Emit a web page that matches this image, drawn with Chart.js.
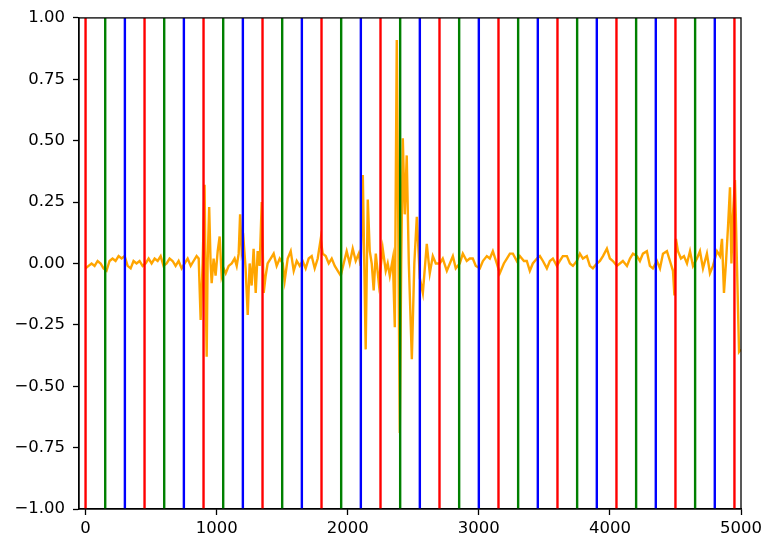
<!DOCTYPE html>
<html>
<head>
<meta charset="utf-8">
<script src="https://cdn.jsdelivr.net/npm/chart.js@4/dist/chart.umd.min.js"></script>
<style>
html,body{margin:0;padding:0;background:#fff;}
canvas{display:block;}
</style>
</head>
<body>
<canvas id="c" width="767" height="542"></canvas>
<script>
// Signal samples (x positions and values)
const signalX = [0,23,46,69,92,115,137,160,183,206,229,252,275,298,321,344,366,389,412,435,458,481,504,527,550,573,595,618,641,664,687,710,733,756,779,802,824,847,863,
878,893,908,916,924,931,943,954,962,977,992,1008,1023,1038,1053,1069,1092,1115,1137,1153,1168,1179,1191,1206,1221,1237,1252,1267,1282,1298,1313,1328,1344,1359,1374,1389,1412,1435,1458,
1481,1504,1519,1542,1565,1588,1611,1634,1656,1679,1702,1725,1748,1771,1794,1809,1832,1855,1878,1901,1924,1947,1969,1992,2015,2038,2061,2084,2099,
2115,2137,2153,2168,2183,2198,2214,2237,2267,2290,2305,2321,2344,2359,2374,2385,2397,2408,2420,2435,2450,2466,2489,2508,2527,2550,2573,2603,2626,2649,2672,
2702,2725,2756,2779,2802,2824,2855,2878,2908,2931,2954,2977,3008,3031,3061,3084,3107,3137,3160,3191,3214,3237,3260,3290,3313,3344,3366,3389,3412,3443,3466,3489,3519,3542,3565,3595,3618,3641,3672,3695,3718,3748,3771,3794,3824,3847,3870,3901,3924,3947,3977,
4000,4023,4053,4076,4099,4130,4153,4176,4206,4229,4252,4282,4305,4328,4359,4382,4405,4435,4458,4481,4492,4504,4519,4542,4565,4588,4611,4634,4664,4687,4710,4740,4763,4786,4817,4840,4855,4870,4885,4901,4916,4927,4939,4954,4969,4985,5000];
const signalY = [-0.02,-0.01,0.0,-0.01,0.01,0.0,-0.02,-0.03,0.01,0.02,0.01,0.03,0.02,0.03,-0.01,-0.02,0.01,0.0,0.01,-0.01,0.0,0.02,0.0,0.02,0.01,0.03,-0.01,0.0,0.02,0.01,-0.01,0.01,-0.02,0.0,0.02,-0.01,0.01,0.03,0.02,
-0.23,0.0,0.32,-0.1,-0.38,0.0,0.23,0.0,-0.08,0.02,-0.05,0.05,0.11,-0.05,-0.02,-0.04,-0.01,0.0,0.02,-0.01,0.04,0.2,0.05,0.09,-0.02,-0.21,0.0,-0.09,0.06,-0.12,0.05,-0.01,0.25,-0.12,-0.05,0.0,0.02,0.04,-0.01,
0.02,0.0,-0.07,0.02,0.05,-0.03,0.01,-0.01,0.01,-0.02,0.02,0.03,-0.02,0.02,0.1,0.04,0.03,0.0,0.02,-0.01,-0.03,-0.05,0.0,0.05,0.0,0.06,0.01,0.04,-0.01,
0.36,-0.35,0.26,0.05,0.0,-0.11,0.04,-0.08,0.06,-0.03,0.0,-0.05,0.02,-0.26,0.91,0.2,-0.69,0.0,0.51,0.2,0.44,0.0,-0.39,0.0,0.19,-0.06,-0.12,0.08,-0.04,0.03,0.0,
0.0,0.02,-0.03,0.0,0.03,-0.02,0.0,0.04,0.01,0.02,0.02,-0.01,-0.02,0.01,0.03,0.02,0.05,0.0,-0.04,0.0,0.02,0.04,0.04,0.01,0.03,0.01,0.01,-0.03,0.0,0.02,0.03,0.01,-0.02,0.01,0.02,-0.01,0.01,0.03,0.03,0.0,-0.01,0.01,0.04,0.02,0.03,-0.01,-0.02,0.0,0.01,0.03,0.06,
0.02,0.01,-0.01,0.0,0.01,-0.01,0.02,0.04,0.03,0.01,0.04,0.05,-0.01,-0.02,0.01,-0.02,0.04,0.05,0.01,-0.03,-0.13,0.1,0.05,0.02,0.03,0.0,0.05,-0.01,0.02,0.05,-0.02,0.04,-0.04,-0.01,0.05,0.03,0.1,-0.12,0.0,0.15,0.31,0.0,0.2,0.34,0.0,-0.36,-0.35];

// Vertical marker lines (positions) and their colours
const vlineX = [0,150,300,450,600,750,900,1050,1200,1350,1500,1650,1800,1950,2100,2250,2400,2550,2700,2850,3000,3150,3300,3450,3600,3750,3900,4050,4200,4350,4500,4650,4800,4950];
const vlineColors = ['#ff0000','#008000','#0000ff'];

// Tick labels
const xTicks = [0,1000,2000,3000,4000,5000];
const yTicks = [-1.00,-0.75,-0.50,-0.25,0.00,0.25,0.50,0.75,1.00];

const datasets = [];
vlineX.forEach((v, i) => {
  datasets.push({
    data: [{x: v, y: -1}, {x: v, y: 1}],
    borderColor: vlineColors[i % 3],
    borderWidth: 2.4,
    pointRadius: 0,
    fill: false,
    order: 0
  });
});
datasets.push({
  data: signalX.map((x, i) => ({x: x, y: signalY[i]})),
  borderColor: '#ffa500',
  borderWidth: 2.4,
  pointRadius: 0,
  tension: 0,
  fill: false,
  order: 1
});

const frame = {
  id: 'frame',
  afterDraw(chart) {
    const a = chart.chartArea, ctx = chart.ctx;
    ctx.save();
    ctx.strokeStyle = '#000';
    ctx.lineWidth = 1.3;
    ctx.strokeRect(a.left, a.top, a.right - a.left, a.bottom - a.top);
    ctx.restore();
  }
};

const fontSpec = {family: 'DejaVu Sans', size: 16.5};

new Chart(document.getElementById('c'), {
  type: 'line',
  data: {datasets},
  options: {
    responsive: false,
    animation: false,
    devicePixelRatio: 1,
    parsing: true,
    layout: {padding: {top: 16, right: 26, left: 0, bottom: 0}},
    plugins: {legend: {display: false}, tooltip: {enabled: false}},
    scales: {
      x: {
        type: 'linear',
        min: -50, max: 5000,
        afterBuildTicks: s => { s.ticks = xTicks.map(v => ({value: v})); },
        afterFit: s => { s.height = 33; },
        grid: {display: true, drawOnChartArea: false, drawTicks: true, tickLength: 6, tickColor: '#000', tickWidth: 1.3},
        border: {display: true, color: '#000', width: 1.3},
        ticks: {color: '#000', font: fontSpec, padding: 4, maxRotation: 0, autoSkip: false,
          callback: v => String(v)}
      },
      y: {
        type: 'linear',
        min: -1, max: 1,
        afterBuildTicks: s => { s.ticks = yTicks.map(v => ({value: v})); },
        afterFit: s => { s.width = 79; },
        grid: {display: true, drawOnChartArea: false, drawTicks: true, tickLength: 6, tickColor: '#000', tickWidth: 1.3},
        border: {display: true, color: '#000', width: 1.3},
        ticks: {color: '#000', font: fontSpec, padding: 8, autoSkip: false,
          callback: v => v.toFixed(2).replace('-', '\u2212')}
      }
    }
  },
  plugins: [frame]
});
</script>
</body>
</html>
